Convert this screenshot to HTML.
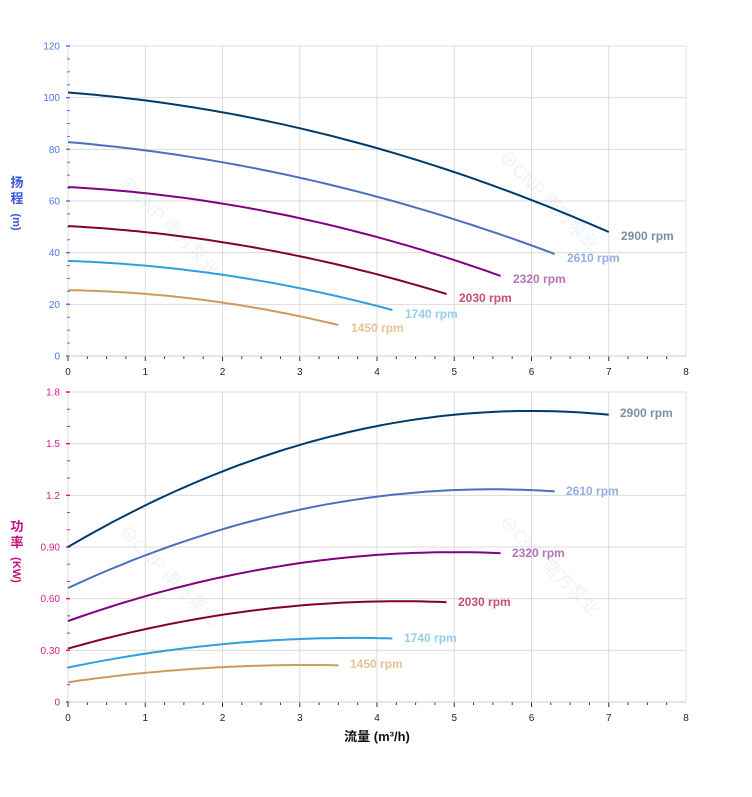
<!DOCTYPE html>
<html><head><meta charset="utf-8">
<style>
html,body{margin:0;padding:0;background:#fff;}
svg{display:block;font-family:"Liberation Sans","Noto Sans CJK SC",sans-serif;}
</style></head>
<body>
<svg id="c" width="752" height="797" xmlns="http://www.w3.org/2000/svg"></svg>
<script>
var s=document.getElementById('c'),h='';
function X(q){return 68+77.25*q;}
function YT(v){return 356-v*310/120;}
function YB(v){return 702-v*310/1.8;}
// watermarks
[[165,230],[545,205],[165,580],[545,570]].forEach(function(p){
 h+='<text x="'+p[0]+'" y="'+p[1]+'" font-size="18" fill="#eef3f9" transform="rotate(45 '+p[0]+' '+p[1]+')" text-anchor="middle">⊕CNP 南方泵业</text>';});
function grid(top,bot,ys,ylab,Y,col){
  for(var i=0;i<=8;i++){h+='<line x1="'+X(i)+'" y1="'+top+'" x2="'+X(i)+'" y2="'+bot+'" stroke="#dcdcdc" stroke-width="1"/>';}
  ys.forEach(function(v,k){var y=Y(v);h+='<line x1="68" y1="'+y+'" x2="686" y2="'+y+'" stroke="#dcdcdc" stroke-width="1"/>';
   h+='<text x="60" y="'+(y+3.5)+'" font-size="10" fill="'+col+'" text-anchor="end">'+ylab[k]+'</text>';
   h+='<line x1="66" y1="'+y+'" x2="70" y2="'+y+'" stroke="'+col+'" stroke-width="1.5"/>';});
  for(var i=0;i<32;i++){var x=X(i/4);h+='<line x1="'+x+'" y1="'+bot+'" x2="'+x+'" y2="'+(bot+(i%4?3:5))+'" stroke="#333" stroke-width="1"/>';}
  for(var i=0;i<=8;i++)h+='<text x="'+X(i)+'" y="'+(bot+19)+'" font-size="10" fill="#222" text-anchor="middle">'+i+'</text>';
}
grid(46,356,[0,20,40,60,80,100,120],['0','20','40','60','80','100','120'],YT,'#4a7ae8');
for(var v=5;v<120;v+=5){if(v%20)h+='<line x1="67" y1="'+YT(v)+'" x2="70" y2="'+YT(v)+'" stroke="#4a7ae8" stroke-width="1"/>';}
grid(392,702,[0,0.3,0.6,0.9,1.2,1.5,1.8],['0','0.30','0.60','0.90','1.2','1.5','1.8'],YB,'#d0208a');
for(var v=0.1;v<1.8;v+=0.1){if(Math.round(v*10)%3)h+='<line x1="67" y1="'+YB(v)+'" x2="70" y2="'+YB(v)+'" stroke="#d0208a" stroke-width="1"/>';}
h+='<line x1="68" y1="356" x2="686" y2="356" stroke="#ccc"/><line x1="68" y1="702" x2="686" y2="702" stroke="#ccc"/>';
var C=[
 {n:2900,c:'#003a6b',lc:'#7a8ea8',qe:7,h:[102,84.5,48],p:[0.9,1.69,6]},
 {n:2610,c:'#4a6fbf',lc:'#95aee0',qe:6.3,h:[82.8,68,39.5],p:[0.662,1.235,5.5]},
 {n:2320,c:'#800080',lc:'#b574b5',qe:5.6,h:[65.4,54.6,31],p:[0.47,0.87,5.0]},
 {n:2030,c:'#800030',lc:'#c2506e',qe:4.9,h:[50.3,41.8,24],p:[0.31,0.585,4.3]},
 {n:1740,c:'#2ca0e0',lc:'#95cdec',qe:4.2,h:[36.8,31,17.8],p:[0.2,0.372,3.7]},
 {n:1450,c:'#d09a5a',lc:'#e6c295',qe:3.5,h:[25.5,21.7,12],p:[0.115,0.215,3.1]}];
var TL=[[621,240],[567,262],[513,283],[459,302],[405,318],[351,332]];
var BL=[[620,417],[566,495],[512,557],[458,606],[404,642],[350,668]];
C.forEach(function(o,k){
 var qe=o.qe,m=qe/2,a=o.h[0],b=o.h[1],e=o.h[2];
 function H(q){return a*(q-m)*(q-qe)/((0-m)*(0-qe))+b*(q)*(q-qe)/((m)*(m-qe))+e*q*(q-m)/(qe*(qe-m));}
 function P(q){var t=1-q/o.p[2];return o.p[1]-(o.p[1]-o.p[0])*t*t;}
 var d1='',d2='';
 for(var i=0;i<=60;i++){var q=qe*i/60;d1+=(i?'L':'M')+X(q).toFixed(1)+','+YT(H(q)).toFixed(1);d2+=(i?'L':'M')+X(q).toFixed(1)+','+YB(P(q)).toFixed(1);}
 h+='<path d="'+d1+'" fill="none" stroke="'+o.c+'" stroke-width="2"/>';
 h+='<path d="'+d2+'" fill="none" stroke="'+o.c+'" stroke-width="2"/>';
 h+='<text x="'+TL[k][0]+'" y="'+TL[k][1]+'" font-size="12" font-weight="bold" fill="'+o.lc+'">'+o.n+' rpm</text>';
 h+='<text x="'+BL[k][0]+'" y="'+BL[k][1]+'" font-size="12" font-weight="bold" fill="'+o.lc+'">'+o.n+' rpm</text>';
});
h+='<text x="17" y="187" font-size="13" font-weight="bold" fill="#3a55d8" text-anchor="middle">扬</text>';
h+='<text x="17" y="203" font-size="13" font-weight="bold" fill="#3a55d8" text-anchor="middle">程</text>';
h+='<text x="13" y="222" font-size="11" font-weight="bold" fill="#3a55d8" text-anchor="middle" transform="rotate(90 13 222)">(m)</text>';
h+='<text x="17" y="531" font-size="13" font-weight="bold" fill="#c0107a" text-anchor="middle">功</text>';
h+='<text x="17" y="547" font-size="13" font-weight="bold" fill="#c0107a" text-anchor="middle">率</text>';
h+='<text x="13" y="570" font-size="11" font-weight="bold" fill="#c0107a" text-anchor="middle" transform="rotate(90 13 570)">(KW)</text>';
h+='<text x="377" y="741" font-size="13" font-weight="bold" fill="#111" text-anchor="middle">流量 (m³/h)</text>';
s.innerHTML=h;
</script>
</body></html>
